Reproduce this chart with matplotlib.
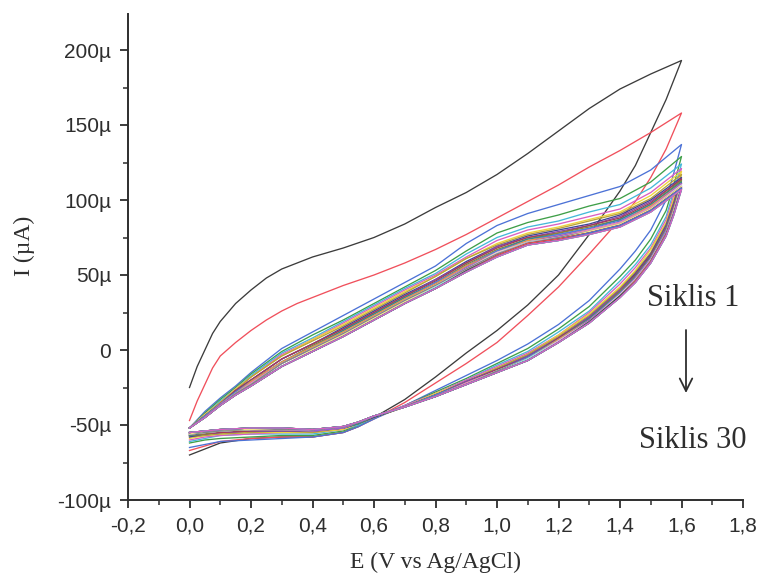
import matplotlib
matplotlib.use("Agg")
import matplotlib.pyplot as plt
from matplotlib.ticker import MultipleLocator, FuncFormatter

# ---------------- data (current in µA) ----------------
# cycles 1 and 2 (separated curves) on a finer forward grid
E_fwd_first = [0.0, 0.025, 0.05, 0.075, 0.1, 0.15, 0.2, 0.25, 0.3, 0.35, 0.4, 0.5, 0.6, 0.7, 0.8,
               0.9, 1.0, 1.1, 1.2, 1.3, 1.4, 1.5, 1.6]
I_fwd_first = [
    [-25, -11, 0, 11, 19, 31, 40, 48, 54, 58, 62, 68, 75, 84, 95, 105, 117, 131, 146, 161, 174, 184, 193],  # 1
    [-47, -34, -23, -12, -4, 5, 13, 20, 26, 31, 35, 43, 50, 58, 67, 77, 88, 99, 110, 122, 133, 145, 158],   # 2
]

E_fwd = [0.0, 0.05, 0.1, 0.15, 0.2, 0.3, 0.4, 0.5, 0.6, 0.7, 0.8, 0.9, 1.0, 1.1, 1.2, 1.3, 1.4, 1.5, 1.6]
I_fwd = [
    [-52, -41, -32, -24, -15, 1, 12, 23, 34, 45, 56, 71, 83, 91, 97, 103, 109, 120, 137],  # 3
    [-52, -42, -33, -25, -16, -1, 10, 20, 31, 42, 53, 66, 78, 85, 90, 96, 101, 112, 129],  # 4
    [-52, -43, -34, -26, -17, -2, 8, 19, 30, 41, 51, 64, 75, 82, 86, 92, 97, 108, 124],    # 5
    [-52, -43, -35, -26, -18, -3, 7, 18, 29, 40, 50, 62, 73, 80, 84, 89, 94, 105, 121],    # 6
    [-52, -43, -35, -26, -18, -4, 7, 17, 28, 39, 49, 61, 71, 78, 82, 87, 92, 103, 119],    # 7
    [-52, -44, -35, -27, -18, -4, 6, 16, 27, 38, 49, 61, 70, 77, 81, 86, 91, 101, 117],    # 8
    [-52, -44, -36, -27, -20, -6, 4, 15, 26, 37, 47, 59, 69, 76, 80, 84, 90, 100, 115],    # 9
    [-52, -44, -36, -27, -20, -6, 4, 14, 25, 36, 47, 58, 69, 75, 79, 83, 89, 99, 114],     # 10
    [-52, -44, -36, -27, -20, -6, 4, 14, 25, 36, 46, 58, 68, 75, 78, 83, 88, 98, 114],     # 11
    [-52, -44, -36, -28, -21, -8, 3, 13, 24, 35, 45, 57, 67, 74, 78, 82, 87, 97, 113],     # 12
    [-52, -44, -36, -28, -21, -8, 2, 13, 24, 35, 45, 56, 66, 74, 77, 81, 87, 97, 112],     # 13
    [-52, -44, -36, -28, -21, -8, 2, 12, 23, 34, 45, 56, 66, 73, 77, 81, 86, 96, 111],     # 14
    [-52, -45, -36, -29, -21, -8, 2, 12, 23, 34, 44, 56, 65, 73, 76, 80, 85, 96, 111],     # 15
    [-52, -45, -36, -29, -22, -9, 1, 11, 22, 33, 43, 55, 65, 72, 76, 80, 85, 95, 111],     # 16
    [-52, -45, -37, -29, -22, -9, 1, 11, 22, 33, 43, 54, 65, 72, 75, 80, 85, 95, 110],     # 17
    [-52, -45, -37, -29, -23, -9, 1, 11, 22, 33, 43, 54, 65, 72, 75, 79, 84, 94, 110],     # 18
    [-52, -45, -37, -29, -23, -9, 1, 11, 22, 33, 43, 54, 64, 72, 75, 79, 84, 94, 109],     # 19
    [-52, -45, -37, -29, -23, -9, 1, 11, 22, 33, 43, 54, 64, 71, 75, 79, 84, 94, 109],     # 20
    [-52, -45, -37, -30, -24, -11, 0, 10, 21, 32, 42, 53, 63, 71, 74, 79, 84, 94, 109],    # 21
    [-52, -45, -37, -30, -24, -11, -1, 9, 20, 31, 42, 53, 63, 71, 74, 78, 83, 93, 108],    # 22
    [-52, -45, -37, -30, -24, -11, -1, 9, 20, 31, 41, 53, 63, 71, 74, 78, 83, 93, 108],    # 23
    [-52, -45, -37, -30, -24, -11, -1, 9, 20, 31, 41, 53, 63, 71, 74, 78, 83, 93, 108],    # 24
    [-52, -45, -37, -30, -24, -11, -1, 9, 20, 31, 41, 52, 63, 71, 74, 78, 83, 93, 108],    # 25
    [-52, -45, -37, -30, -24, -11, -1, 9, 20, 31, 41, 52, 63, 71, 74, 78, 83, 93, 108],    # 26
    [-52, -45, -37, -30, -24, -11, -1, 9, 20, 31, 41, 52, 62, 70, 73, 78, 83, 93, 108],    # 27
    [-52, -45, -37, -30, -24, -11, -1, 9, 20, 31, 41, 52, 62, 70, 73, 77, 82, 92, 107],    # 28
    [-52, -45, -37, -30, -24, -11, -1, 9, 20, 31, 41, 52, 62, 70, 73, 77, 82, 92, 107],    # 29
    [-52, -45, -37, -30, -24, -11, -1, 9, 20, 31, 41, 52, 62, 70, 73, 77, 82, 92, 107],    # 30
]

E_rev = [1.6, 1.575, 1.55, 1.5, 1.45, 1.4, 1.3, 1.2, 1.1, 1.0, 0.9, 0.8, 0.7, 0.6, 0.55, 0.5, 0.4, 0.3, 0.2, 0.1, 0.05, 0.0]
I_rev = [
    [193, 180, 167, 145, 123, 106, 77, 50, 30, 13, -2, -18, -33, -45, -51, -55, -58, -58, -59, -62, -66, -70],  # 1
    [158, 146, 134, 115, 99, 87, 64, 42, 23, 5, -9, -22, -35, -46, -51, -55, -58, -58, -59, -61, -64, -67],     # 2
    [137, 118, 100, 80, 66, 54, 33, 17, 4, -7, -17, -27, -37, -46, -51, -55, -58, -59, -60, -61, -63, -65],     # 3
    [129, 110, 93, 74, 60, 49, 29, 14, 1, -9, -19, -28, -37, -45, -50, -54, -57, -57, -58, -59, -60, -62],      # 4
    [124, 106, 89, 70, 57, 46, 26, 12, -1, -10, -20, -29, -37, -45, -50, -53, -56, -56, -56, -57, -59, -61],    # 5
    [121, 103, 87, 68, 55, 44, 25, 10, -2, -11, -20, -29, -37, -45, -49, -53, -55, -55, -56, -57, -58, -60],    # 6
    [119, 101, 85, 67, 53, 42, 24, 10, -3, -12, -21, -29, -38, -45, -49, -53, -55, -55, -55, -56, -57, -59],    # 7
    [117, 99, 84, 65, 52, 41, 23, 9, -3, -12, -21, -30, -38, -45, -49, -52, -55, -54, -55, -56, -57, -58],      # 8
    [115, 98, 83, 64, 51, 40, 22, 8, -4, -13, -21, -30, -38, -45, -49, -52, -54, -54, -54, -55, -56, -58],      # 9
    [114, 97, 82, 63, 50, 40, 22, 8, -4, -13, -21, -30, -38, -44, -49, -52, -54, -54, -54, -55, -56, -57],      # 10
    [114, 96, 81, 63, 50, 39, 21, 8, -5, -13, -22, -30, -38, -44, -49, -52, -54, -53, -54, -55, -56, -57],      # 11
    [113, 95, 81, 62, 49, 39, 21, 7, -5, -14, -22, -30, -38, -44, -49, -52, -54, -53, -53, -54, -56, -57],      # 12
    [112, 95, 80, 62, 49, 38, 21, 7, -5, -14, -22, -30, -38, -44, -49, -52, -54, -53, -53, -54, -55, -57],      # 13
    [111, 94, 80, 61, 48, 38, 20, 7, -5, -14, -22, -30, -38, -44, -48, -52, -54, -53, -53, -54, -55, -56],      # 14
    [111, 94, 79, 61, 48, 37, 20, 7, -6, -14, -22, -31, -38, -44, -48, -52, -54, -53, -53, -54, -55, -56],      # 15
    [111, 93, 79, 61, 48, 37, 20, 6, -6, -14, -22, -31, -38, -44, -48, -52, -54, -53, -53, -54, -55, -56],      # 16
    [110, 93, 78, 60, 47, 37, 19, 6, -6, -14, -22, -31, -38, -44, -48, -51, -53, -53, -53, -54, -55, -56],      # 17
    [110, 92, 78, 60, 47, 37, 19, 6, -6, -14, -23, -31, -38, -44, -48, -51, -53, -53, -53, -54, -55, -56],      # 18
    [109, 92, 78, 60, 47, 36, 19, 6, -6, -14, -23, -31, -38, -44, -48, -51, -53, -53, -53, -54, -55, -56],      # 19
    [109, 92, 78, 59, 46, 36, 19, 6, -6, -14, -23, -31, -38, -44, -48, -51, -53, -53, -53, -54, -55, -56],      # 20
    [109, 92, 77, 59, 46, 36, 19, 6, -6, -15, -23, -31, -38, -44, -48, -51, -53, -52, -53, -53, -54, -56],      # 21
    [108, 91, 77, 59, 46, 36, 19, 6, -6, -15, -23, -31, -38, -44, -48, -51, -53, -52, -52, -53, -54, -55],      # 22
    [108, 91, 77, 59, 46, 36, 19, 6, -7, -15, -23, -31, -38, -44, -48, -51, -53, -52, -52, -53, -54, -55],      # 23
    [108, 91, 77, 59, 46, 36, 19, 5, -7, -15, -23, -31, -38, -44, -48, -51, -53, -52, -52, -53, -54, -55],      # 24
    [108, 91, 77, 59, 46, 36, 18, 5, -7, -15, -23, -31, -38, -44, -48, -51, -53, -52, -52, -53, -54, -55],      # 25
    [108, 91, 77, 59, 46, 35, 18, 5, -7, -15, -23, -31, -38, -44, -48, -51, -53, -52, -52, -53, -54, -55],      # 26
    [108, 91, 76, 58, 45, 35, 18, 5, -7, -15, -23, -31, -38, -44, -48, -51, -53, -52, -52, -53, -54, -55],      # 27
    [107, 90, 76, 58, 45, 35, 18, 5, -7, -15, -23, -31, -38, -44, -48, -51, -53, -52, -52, -53, -54, -55],      # 28
    [107, 90, 76, 58, 45, 35, 18, 5, -7, -15, -23, -31, -38, -44, -48, -51, -53, -52, -52, -53, -54, -55],      # 29
    [107, 90, 76, 58, 45, 35, 18, 5, -7, -15, -23, -31, -38, -44, -48, -51, -53, -52, -52, -53, -54, -55],      # 30
]

cycle_colors = [
    '#3c3c3c', '#f0505c', '#4c72d6', '#3f9f48', '#45b9d9', '#d95fc2', '#f0d43a', '#b8a23a',
    '#3f4594', '#8a4aa6', '#a33a5a', '#86863a', '#35888a', '#5a78e0', '#f29a3a', '#9a5ad6',
    '#f08ab8', '#d8d8d8', '#b5b5b5', '#858585', '#f2e48a', '#8ae0f0', '#f09ae0', '#555555',
    '#3c3c3c', '#f0505c', '#4c72d6', '#3f9f48', '#45b9d9', '#d95fc2',
]

x_ticks = [-0.2, 0.0, 0.2, 0.4, 0.6, 0.8, 1.0, 1.2, 1.4, 1.6, 1.8]
y_ticks = [-100, -50, 0, 50, 100, 150, 200]

# ---------------- figure ----------------
W, H = 758, 575
fig = plt.figure(figsize=(W / 100, H / 100), dpi=100)
ax = fig.add_axes([128 / W, 1 - 500 / H, (743 - 128) / W, (500 - 14) / H])

n_first = len(I_fwd_first)
for k in range(n_first + len(I_fwd)):
    if k < n_first:
        E = E_fwd_first + E_rev[1:]
        I = I_fwd_first[k] + I_rev[k][1:]
    else:
        E = E_fwd + E_rev[1:]
        I = I_fwd[k - n_first] + I_rev[k][1:]
    ax.plot(E, I, color=cycle_colors[k], lw=0.95, solid_joinstyle='round')

ax.set_xlim(-0.2, 1.8)
ax.set_ylim(-100, 224)

txt_col = '#2e2e2e'
for s in ['top', 'right']:
    ax.spines[s].set_visible(False)
for s in ['left', 'bottom']:
    ax.spines[s].set_color(txt_col)
    ax.spines[s].set_linewidth(1.4)

ax.set_xticks(x_ticks)
ax.set_yticks(y_ticks)
ax.xaxis.set_minor_locator(MultipleLocator(0.1))
ax.yaxis.set_minor_locator(MultipleLocator(25))
ax.xaxis.set_major_formatter(FuncFormatter(lambda v, p: f'{v:.1f}'.replace('.', ',')))
ax.yaxis.set_major_formatter(FuncFormatter(lambda v, p: '0' if abs(v) < 1e-9 else f'{int(round(v))}µ'))
ax.tick_params(which='major', direction='out', length=6, width=1.3, color=txt_col,
               labelsize=15, labelcolor=txt_col, pad=6)
ax.tick_params(which='minor', direction='out', length=3.5, width=1.1, color=txt_col)
for lab in ax.get_xticklabels() + ax.get_yticklabels():
    lab.set_fontfamily('Liberation Sans')

serif = 'Liberation Serif'
fig.text(436 / W, 1 - 562 / H, 'E (V vs Ag/AgCl)', ha='center', va='center',
         fontsize=17, family=serif, color=txt_col)
fig.text(24 / W, 1 - 246 / H, 'I (µA)', ha='center', va='center', rotation=90,
         fontsize=17, family=serif, color=txt_col)

fig.text(693 / W, 1 - 299 / H, 'Siklis 1', ha='center', va='center',
         fontsize=22, family=serif, color=txt_col)
fig.text(693 / W, 1 - 440 / H, 'Siklis 30', ha='center', va='center',
         fontsize=22, family=serif, color=txt_col)
ax.annotate('', xy=(686, H - 393), xytext=(686, H - 330),
            xycoords='figure pixels', textcoords='figure pixels',
            arrowprops=dict(arrowstyle='->,head_length=0.9,head_width=0.45',
                            color=txt_col, lw=1.3, shrinkA=0, shrinkB=0))

fig.savefig('out.png', dpi=100)
